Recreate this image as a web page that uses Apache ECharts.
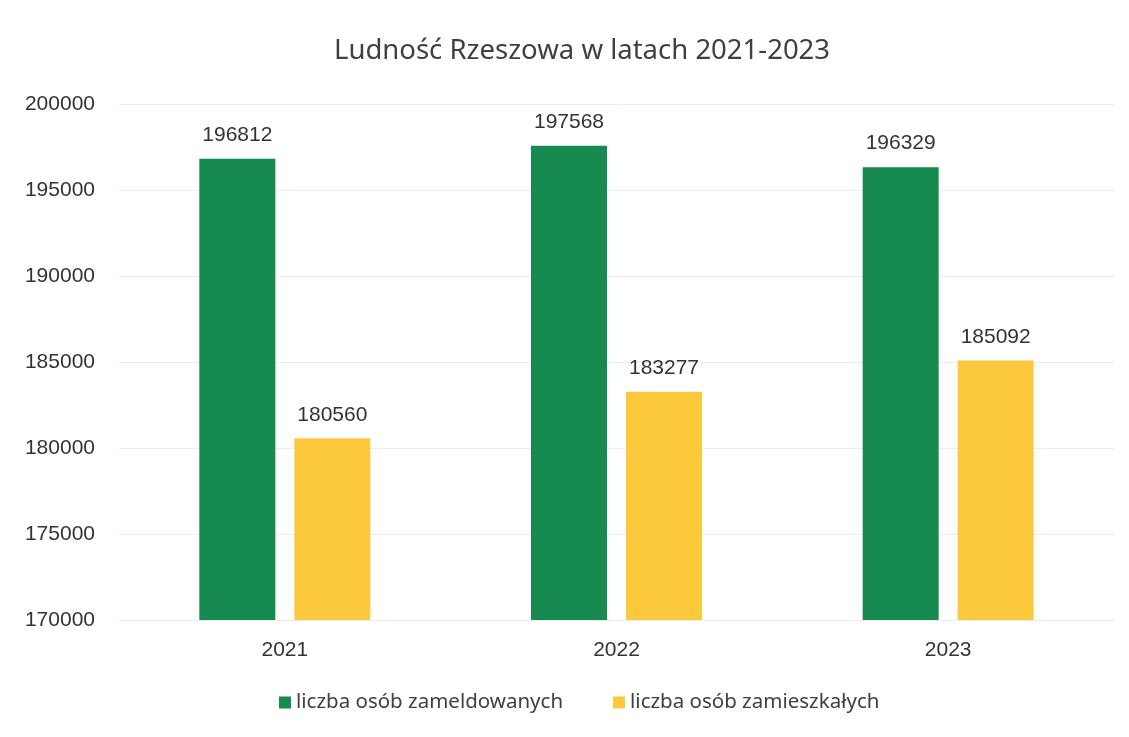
<!DOCTYPE html>
<html>
<head>
<meta charset="utf-8">
<title>Ludność Rzeszowa</title>
<script src="https://cdn.jsdelivr.net/npm/echarts@6/dist/echarts.min.js"></script>
<style>
  html, body { margin: 0; padding: 0; background: #fff; }
  #chart { width: 1129px; height: 737px; }
</style>
</head>
<body>
<div id="chart"></div>
<script>
var years = ['2021', '2022', '2023'];
var zameldowani = [196812, 197568, 196329];
var zamieszkali = [180560, 183277, 185092];
var seriesNames = ['liczba osób zameldowanych', 'liczba osób zamieszkałych'];

var chart = echarts.init(document.getElementById('chart'));

var labelStyle = {
    show: true,
    position: 'top',
    distance: 13,
    color: '#333',
    fontFamily: 'Liberation Sans',
    fontSize: 21
};

chart.setOption({
    backgroundColor: '#fff',
    title: {
        text: 'Ludność Rzeszowa w latach 2021-2023',
        left: 329,
        top: 32,
        textStyle: {
            color: '#404040',
            fontFamily: 'Noto Sans',
            fontWeight: 'normal',
            fontSize: 27.5
        }
    },
    legend: {
        data: seriesNames,
        left: 274,
        bottom: 19,
        itemWidth: 12,
        itemHeight: 12,
        itemGap: 50,
        icon: 'rect',
        textStyle: {
            color: '#404040',
            fontFamily: 'Noto Sans',
            fontSize: 20.5
        }
    },
    grid: {
        left: 119,
        right: 15,
        top: 104,
        bottom: 117
    },
    xAxis: {
        type: 'category',
        data: years,
        axisLine: { show: false },
        axisTick: { show: false },
        axisLabel: {
            margin: 20,
            color: '#333',
            fontFamily: 'Liberation Sans',
            fontSize: 21
        }
    },
    yAxis: {
        type: 'value',
        min: 170000,
        max: 200000,
        interval: 5000,
        axisLine: { show: false },
        axisTick: { show: false },
        axisLabel: {
            margin: 24,
            color: '#333',
            fontFamily: 'Liberation Sans',
            fontSize: 21,
            formatter: function (v) { return String(v); }
        },
        splitLine: {
            lineStyle: { color: '#ececec', width: 1 }
        }
    },
    series: [
        {
            name: seriesNames[0],
            type: 'bar',
            data: zameldowani,
            barWidth: 76,
            barGap: '25%',
            itemStyle: { color: '#168a4f' },
            label: labelStyle
        },
        {
            name: seriesNames[1],
            type: 'bar',
            data: zamieszkali,
            barWidth: 76,
            itemStyle: { color: '#fcc83c' },
            label: labelStyle
        }
    ]
});
</script>
</body>
</html>
